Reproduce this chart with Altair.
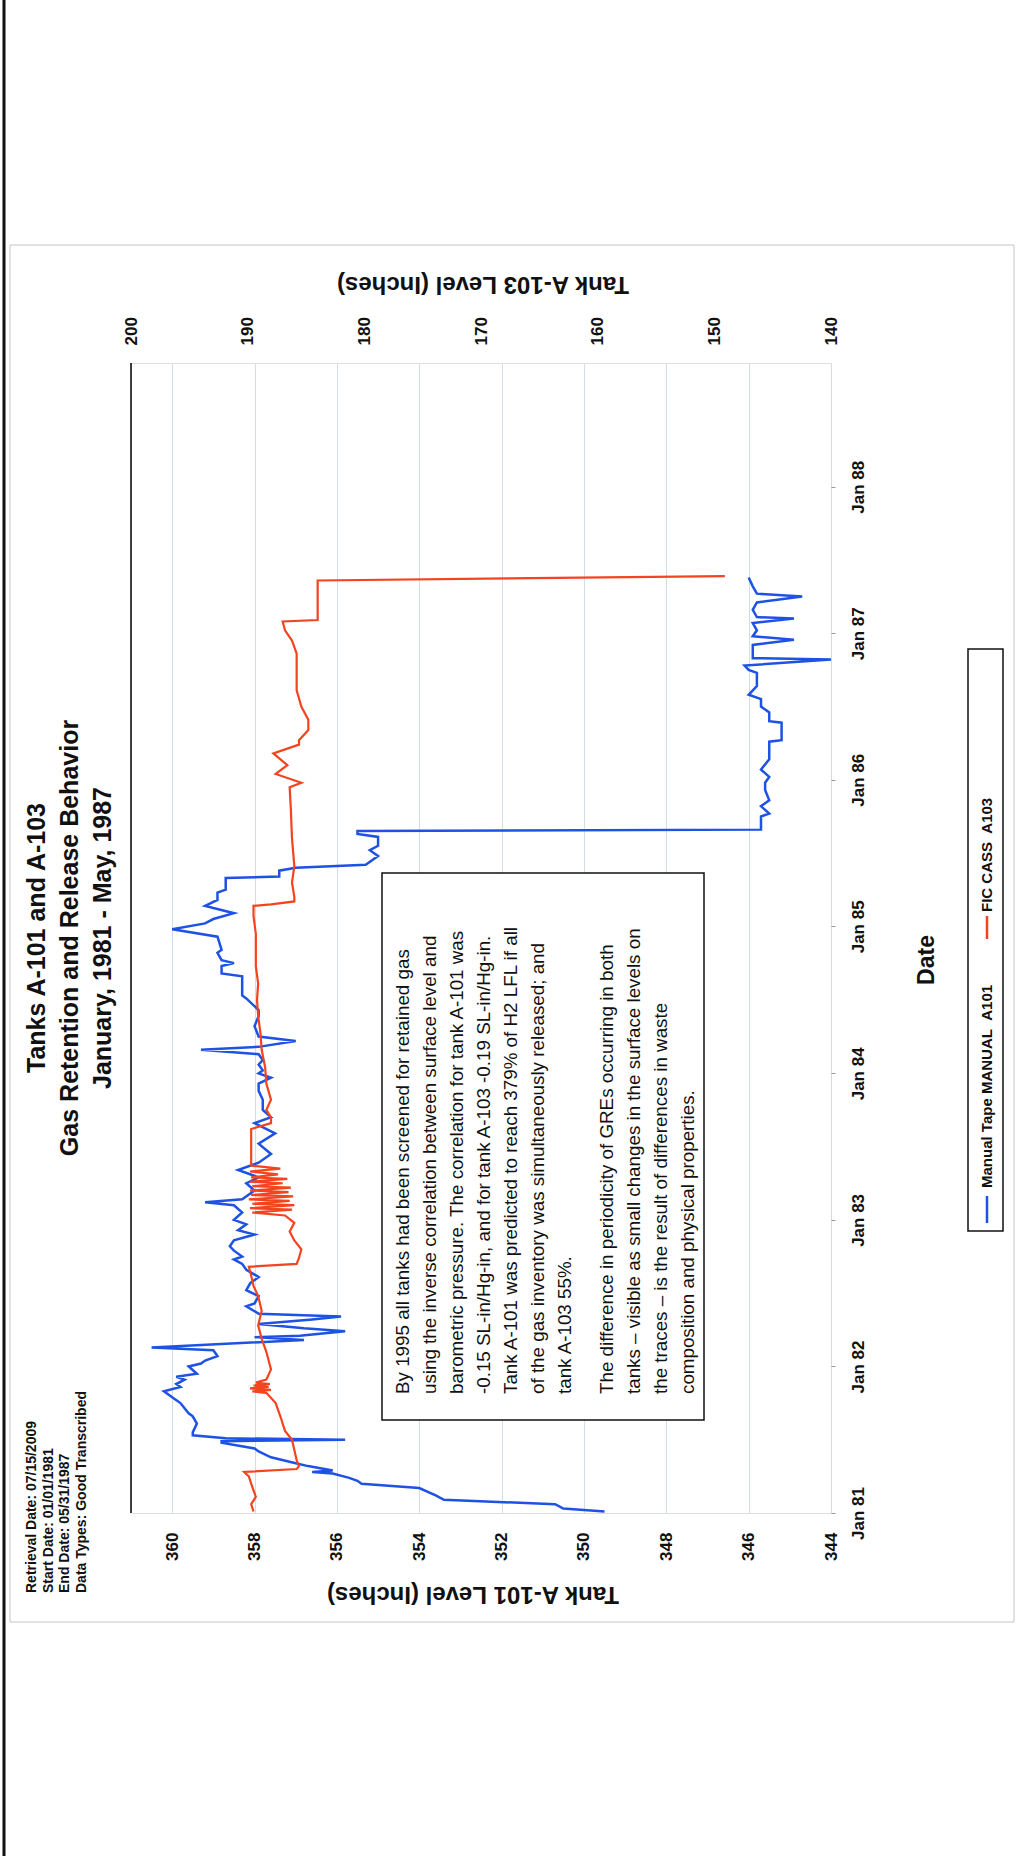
import altair as alt
import pandas as pd

# ---------------- data ----------------
blue_t = [1981.01, 1981.03, 1981.06, 1981.09, 1981.12, 1981.17, 1981.20, 1981.22, 1981.24, 1981.27,
          1981.28, 1981.29, 1981.32, 1981.34, 1981.38, 1981.42, 1981.44, 1981.48, 1981.49, 1981.50,
          1981.51, 1981.53, 1981.55, 1981.61, 1981.66, 1981.68, 1981.75, 1981.79, 1981.83, 1981.86,
          1981.88, 1981.91, 1981.93, 1981.95, 1982.00, 1982.02, 1982.04, 1982.07, 1982.11, 1982.13,
          1982.18, 1982.20, 1982.21, 1982.24, 1982.26, 1982.29, 1982.32, 1982.34, 1982.36, 1982.41,
          1982.43, 1982.48, 1982.52, 1982.57, 1982.61, 1982.66, 1982.70, 1982.73, 1982.75, 1982.79,
          1982.82, 1982.86, 1982.90, 1982.93, 1982.97, 1983.00, 1983.05, 1983.10, 1983.12, 1983.14,
          1983.20, 1983.25, 1983.29, 1983.34, 1983.39, 1983.45, 1983.52, 1983.59, 1983.66, 1983.70,
          1983.75, 1983.82, 1983.88, 1983.93, 1983.97, 1984.00, 1984.02, 1984.06, 1984.09, 1984.13,
          1984.16, 1984.18, 1984.22, 1984.25, 1984.32, 1984.39, 1984.43, 1984.51, 1984.53, 1984.61,
          1984.66, 1984.68, 1984.73, 1984.75, 1984.77, 1984.82, 1984.84, 1984.93, 1984.98, 1985.02,
          1985.05, 1985.09, 1985.14, 1985.18, 1985.23, 1985.25, 1985.33, 1985.34, 1985.38, 1985.40,
          1985.42, 1985.48, 1985.52, 1985.55, 1985.61, 1985.63, 1985.65, 1985.66, 1985.68, 1985.75,
          1985.77, 1985.82, 1985.86, 1985.93, 1985.98, 1986.02, 1986.07, 1986.14, 1986.26, 1986.27,
          1986.30, 1986.39, 1986.40, 1986.46, 1986.50, 1986.55, 1986.58, 1986.64, 1986.73, 1986.75,
          1986.78, 1986.82, 1986.83, 1986.88, 1986.92, 1986.955, 1986.98, 1987.02, 1987.07, 1987.10,
          1987.11, 1987.16, 1987.21, 1987.25, 1987.27, 1987.32, 1987.38]
blue_v = [349.5, 350.5, 350.7, 353.4, 353.6, 354.0, 355.4, 355.5, 355.7, 356.1,
          356.6, 356.1, 356.7, 357.0, 357.6, 357.9, 358.0, 358.8, 358.8, 355.8,
          358.7, 359.5, 359.5, 359.4, 359.5, 359.6, 359.8, 360.0, 360.2, 359.8,
          359.9, 359.7, 359.9, 359.4, 359.6, 359.3, 359.2, 358.9, 359.0, 360.5,
          356.8, 358.0, 356.9, 355.8, 356.8, 357.9, 356.6, 355.9, 357.9, 358.2,
          358.0, 357.9, 358.2, 358.1, 357.9, 358.2, 358.3, 358.5, 358.3, 358.5,
          358.6, 358.5, 358.0, 358.4, 358.2, 358.5, 358.3, 358.5, 359.2, 358.3,
          358.0, 358.2, 357.9, 358.4, 357.9, 357.6, 357.9, 357.5, 358.0, 357.6,
          357.8, 357.8, 357.9, 357.9, 357.6, 357.9, 357.8, 357.9, 357.8, 357.9,
          359.3, 357.9, 357.0, 357.9, 358.0, 357.9, 357.9, 358.2, 358.3, 358.3,
          358.3, 358.8, 358.8, 358.5, 358.8, 358.9, 358.8, 358.9, 360.0, 359.2,
          359.0, 358.5, 359.2, 358.9, 358.9, 358.7, 358.7, 357.4, 357.4, 357.0,
          355.3, 355.0, 355.2, 355.0, 355.0, 355.5, 355.5, 345.7, 345.7, 345.7,
          345.5, 345.7, 345.5, 345.6, 345.6, 345.5, 345.7, 345.5, 345.5, 345.2,
          345.2, 345.2, 345.5, 345.5, 345.7, 345.7, 346.0, 345.8, 345.8, 346.0,
          346.1, 344.0, 345.9, 345.9, 345.9, 344.9, 345.9, 345.8, 345.9, 344.9,
          345.8, 345.9, 345.8, 344.7, 345.8, 345.9, 346.0]

red_t = [1981.01, 1981.06, 1981.11, 1981.20, 1981.25, 1981.28, 1981.30, 1981.32, 1981.36, 1981.43,
         1981.50, 1981.56, 1981.66, 1981.75, 1981.82, 1981.83, 1981.84, 1981.85, 1981.86, 1981.87,
         1981.88, 1981.89, 1981.91, 1981.98, 1982.10, 1982.19, 1982.28, 1982.38, 1982.48, 1982.55,
         1982.62, 1982.68, 1982.70, 1982.74, 1982.80, 1982.86, 1982.92, 1982.98, 1983.03, 1983.05,
         1983.07, 1983.08, 1983.10, 1983.11, 1983.13, 1983.14, 1983.16, 1983.17, 1983.19, 1983.20,
         1983.22, 1983.23, 1983.25, 1983.26, 1983.28, 1983.29, 1983.31, 1983.33, 1983.35, 1983.37,
         1983.40, 1983.50, 1983.62, 1983.66, 1983.70, 1983.75, 1983.82, 1983.93, 1984.04, 1984.16,
         1984.27, 1984.39, 1984.50, 1984.61, 1984.73, 1984.84, 1984.95, 1985.07, 1985.14, 1985.15,
         1985.17, 1985.20, 1985.30, 1985.41, 1985.60, 1985.80, 1985.95, 1985.98, 1986.04, 1986.10,
         1986.18, 1986.24, 1986.27, 1986.34, 1986.41, 1986.50, 1986.61, 1986.73, 1986.86, 1986.95,
         1987.02, 1987.08, 1987.09, 1987.36, 1987.39]
red_v = [189.5, 189.7, 189.3, 189.7, 189.9, 190.3, 185.8, 185.6, 185.8, 186.0,
         186.2, 186.8, 187.2, 187.6, 188.4, 189.6, 188.0, 189.8, 188.2, 189.5,
         188.1, 189.3, 188.4, 188.0, 188.4, 188.8, 189.1, 188.8, 189.1, 189.5,
         189.7, 189.9, 185.8, 185.6, 185.4, 186.0, 186.4, 186.0, 186.8, 189.6,
         186.2, 189.8, 186.0, 189.6, 186.4, 189.9, 186.1, 189.7, 186.5, 189.8,
         186.3, 189.6, 187.0, 189.8, 186.6, 189.7, 187.4, 189.8, 187.2, 189.7,
         189.7, 189.7, 189.7, 188.0, 188.0, 188.4, 188.0, 188.4, 188.5, 188.8,
         188.9, 189.1, 189.2, 189.1, 189.3, 189.3, 189.3, 189.5, 189.5, 188.0,
         186.0, 186.0, 186.2, 186.0, 186.2, 186.3, 186.4, 185.4, 187.6, 186.6,
         187.8, 185.6, 185.6, 184.8, 184.8, 185.4, 185.8, 185.8, 185.8, 186.2,
         186.8, 187.0, 184.0, 184.0, 149.1]

a101_ticks = [344, 346, 348, 350, 352, 354, 356, 358, 360]
a103_ticks = [140, 150, 160, 170, 180, 190, 200]
year_ticks = [1981, 1982, 1983, 1984, 1985, 1986, 1987, 1988]

series_names = ["Manual Tape MANUAL\u00a0\u00a0A101", "FIC CASS\u00a0\u00a0A103"]

title_lines = ["Tanks A-101 and A-103", "Gas Retention and Release Behavior",
               "January, 1981 - May, 1987"]
info_lines = ["Retrieval Date: 07/15/2009", "Start Date: 01/01/1981",
              "End Date: 05/31/1987", "Data Types: Good Transcribed"]
note_par1 = ["By 1995 all tanks had been screened for retained gas",
             "using the inverse correlation between surface level and",
             "barometric pressure.  The correlation for tank A-101 was",
             "-0.15 SL-in/Hg-in, and for tank A-103 -0.19 SL-in/Hg-in.",
             "Tank A-101 was predicted to reach 379% of H2 LFL if all",
             "of the gas inventory was simultaneously released; and",
             "tank A-103 55%."]
note_par2 = ["The difference in periodicity of GREs occurring in both",
             "tanks \u2013 visible as small changes in the surface levels on",
             "the traces \u2013 is the result of differences in waste",
             "composition and physical properties."]


def to_iso(t):
    y = int(t)
    start = pd.Timestamp(year=y, month=1, day=1)
    end = pd.Timestamp(year=y + 1, month=1, day=1)
    return (start + (end - start) * (t - y)).strftime("%Y-%m-%dT%H:%M:%S")


blue_df = pd.DataFrame({"i": range(len(blue_t)), "date": [to_iso(t) for t in blue_t], "v": blue_v})
red_df = pd.DataFrame({"i": range(len(red_t)), "date": [to_iso(t) for t in red_t], "v": red_v})
one = pd.DataFrame({"k": [0]})

BLUE = "#1e52e4"
RED = "#f4431f"
FONT = "Liberation Sans"

y_enc = alt.Y(
    "date:T",
    scale=alt.Scale(domain=[alt.DateTime(year=1981, month=1, date=1),
                            alt.DateTime(year=1988, month=11, date=4)], nice=False),
    axis=alt.Axis(orient="right", values=[alt.DateTime(year=y, month=1, date=1) for y in year_ticks],
                  format="%b %y", labelAngle=270, labelAlign="center", labelBaseline="top",
                  labelFontSize=17, labelFontWeight="bold", labelColor="#111111", labelPadding=15,
                  labelOverlap=False, ticks=True, tickSize=4, tickColor="#9a9a9a", domain=False,
                  grid=False, title=None),
)

blue = alt.Chart(blue_df).mark_line(color=BLUE, strokeWidth=2.5).encode(
    x=alt.X("v:Q", scale=alt.Scale(domain=[344, 361], reverse=True, nice=False, zero=False),
            axis=alt.Axis(orient="bottom", values=a101_ticks, labelAngle=270, labelAlign="right",
                          labelBaseline="middle", labelFontSize=17, labelFontWeight="bold",
                          labelColor="#111111", labelPadding=19, ticks=False, domain=False,
                          grid=True, gridColor="#d3dde8", gridWidth=1, title=None)),
    y=y_enc,
    order="i:Q",
)

red = alt.Chart(red_df).mark_line(color=RED, strokeWidth=2.2).encode(
    x=alt.X("v:Q", scale=alt.Scale(domain=[140, 200], reverse=True, nice=False, zero=False),
            axis=alt.Axis(orient="top", values=a103_ticks, labelAngle=270, labelAlign="left",
                          labelBaseline="middle", labelFontSize=17, labelFontWeight="bold",
                          labelColor="#111111", labelPadding=18, ticks=False, domain=False,
                          grid=False, title=None)),
    y=y_enc,
    order="i:Q",
)


def txt(text, x, y, size, angle=270, align="left", baseline="middle", bold=True,
        line_height=None, color="#111111"):
    kw = dict(text=text, fontSize=size, angle=angle, align=align, baseline=baseline,
              font=FONT, color=color, fontWeight="bold" if bold else "normal")
    if line_height is not None:
        kw["lineHeight"] = line_height
    return alt.Chart(one).mark_text(**kw).encode(x=alt.value(x), y=alt.value(y))


def box(x1, x2, y1, y2, stroke, width, fill="white", fill_opacity=1.0):
    return alt.Chart(one).mark_rect(fill=fill, fillOpacity=fill_opacity, stroke=stroke,
                                    strokeWidth=width).encode(
        x=alt.value(x1), x2=alt.value(x2), y=alt.value(y1), y2=alt.value(y2))


def rule(x1, x2, y1, y2, color, width):
    return alt.Chart(one).mark_rule(color=color, strokeWidth=width).encode(
        x=alt.value(x1), x2=alt.value(x2), y=alt.value(y1), y2=alt.value(y2))


frame = box(-121, 883, -118, 1259, "#c4c4c4", 1, fill="white", fill_opacity=0)
page_edge = rule(-127, -127, -363, 1493, "#111111", 3)
left_border = rule(0, 0, 0, 1150, "#111111", 1.6)

note_box = box(251, 573, 510, 1057, "#111111", 1.5)
note_text1 = txt(note_par1, 263, 1031, 18.8, baseline="top", bold=False, line_height=27)
note_text2 = txt(note_par2, 467, 1031, 18.8, baseline="top", bold=False, line_height=27)

info_text = txt(info_lines, -106, 1230, 14, baseline="top", line_height=16.7)
title_text = txt(title_lines, -106, 575, 25, align="center", baseline="top", line_height=33)

date_title = txt("Date", 796, 597, 23, align="center")
a101_title = txt("Tank A-101 Level (Inches)", 342, 1231, 24, angle=180, align="center")
a103_title = txt("Tank A-103 Level (Inches)", 352, -79, 24, angle=180, align="center")

legend_box = box(837, 872, 286, 868, "#111111", 1.5)
leg_blue_line = rule(856, 856, 833, 860, BLUE, 2.5)
leg_red_line = rule(856, 856, 553, 576, RED, 2.5)
leg_blue_txt = txt(series_names[0], 856, 825, 15)
leg_red_txt = txt(series_names[1], 856, 549, 15)

chart = alt.layer(
    frame, page_edge, blue, red, left_border, note_box, note_text1, note_text2, info_text,
    title_text, date_title, a101_title, a103_title, legend_box, leg_blue_line, leg_red_line,
    leg_blue_txt, leg_red_txt,
).resolve_scale(x="independent").properties(
    width=700, height=1150,
    autosize=alt.AutoSizeParams(type="none"),
    padding={"left": 131, "top": 363, "right": 194, "bottom": 343},
    background="white",
).configure_view(stroke="#c6cdd6", strokeWidth=1).configure(font=FONT)

chart.save("out.html", embed_options={"renderer": "svg", "actions": False})
